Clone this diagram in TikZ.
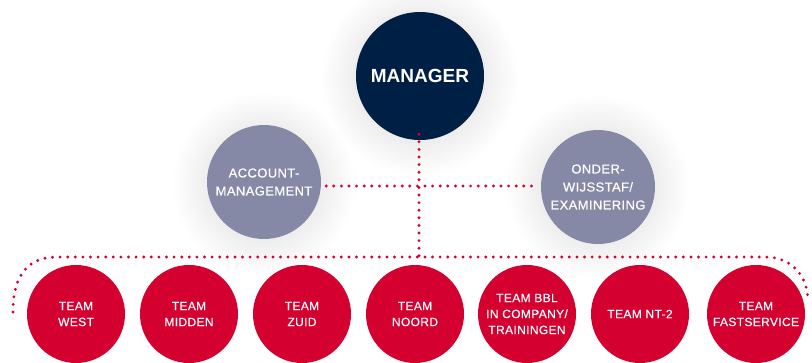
\documentclass[tikz,border=0pt]{standalone}
\usepackage{fontspec}
\setmainfont{Liberation Sans}
\newfontfamily\lbl[LetterSpace=3,FakeBold=0.4]{Liberation Sans}
\definecolor{navy}{HTML}{001F45}
\definecolor{greyc}{HTML}{8589A5}
\definecolor{redc}{HTML}{D4002F}
\begin{document}
\begin{tikzpicture}[x=1pt,y=-1pt,
  circ/.style={circle,inner sep=0pt,text=white,align=center},
  mgr/.style={circ,fill=navy,minimum size=128pt,font=\fontsize{19}{22}\selectfont\bfseries},
  sub/.style={circ,fill=greyc,minimum size=114pt,font=\lbl\fontsize{13}{18}\selectfont},
  team/.style={circ,fill=redc,minimum size=98pt,font=\lbl\fontsize{12}{16}\selectfont},
  dots/.style={draw=redc,line width=3.2pt,line cap=round,dash pattern=on 0pt off 7.6pt}]
\useasboundingbox (0,0) rectangle (812,362);
\fill[white] (0,0) rectangle (812,362);
% glows
\foreach \r in {0,2,...,34}{
  \fill[black,opacity=0.0025] (420,78) circle (64+\r);
  \fill[black,opacity=0.004] (264,184) circle (57+\r);
  \fill[black,opacity=0.004] (598,187) circle (57+\r);
}
% nodes
\node[mgr] (m) at (420,76) {MANAGER};
\node[sub] (a) at (264,182) {ACCOUNT-\\MANAGEMENT};
\node[sub] (o) at (598,187) {ONDER-\\WIJSSTAF/\\EXAMINERING};
\node[team] (t1) at (76,314) {TEAM\\WEST};
\node[team] (t2) at (189,314) {TEAM\\MIDDEN};
\node[team] (t3) at (302,314) {TEAM\\ZUID};
\node[team] (t4) at (415,314) {TEAM\\NOORD};
\node[team] (t5) at (527,314) {TEAM BBL\\IN COMPANY/\\TRAININGEN};
\node[team] (t6) at (640,314) {TEAM NT-2};
\node[team] (t7) at (756,314) {TEAM\\FASTSERVICE};
% connectors
\coordinate (j) at (419,249);
\coordinate (ls) at (13,312);
\coordinate (ll) at (57,257);
\coordinate (rl) at (765,257);
\coordinate (re) at (808,302);
\draw[dots] ([yshift=6pt]m.south -| j) -- (j |- ll);
\draw[dots] ([xshift=5pt]a.east |- 0,186) -- ([xshift=-4pt]o.west |- 0,186);
\draw[dots] (ls) .. controls (13,275) and (28,257) .. (ll) -- (rl) .. controls (792,257) and (808,276) .. (re);
\end{tikzpicture}
\end{document}
